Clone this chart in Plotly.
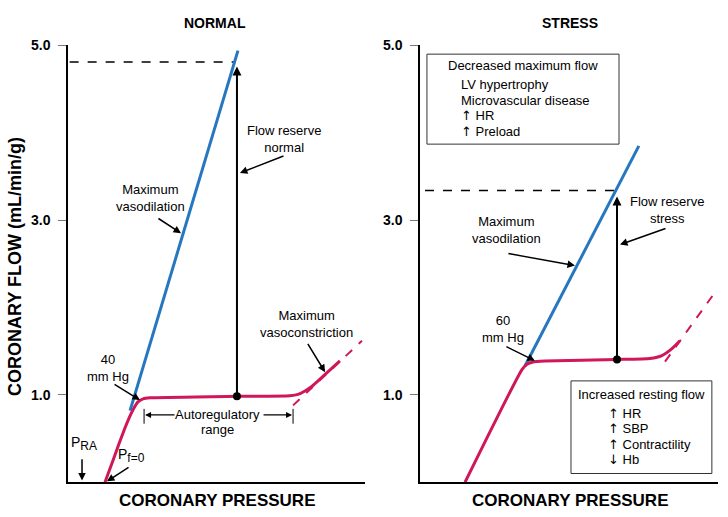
import plotly.graph_objects as go

# ---------------- DATA ----------------
# NORMAL panel (x: coronary pressure, arbitrary mm Hg scale; y: flow mL/min/g)
normal_auto_x = [22.4, 26.7, 30.9, 34.5, 37.6, 40.0, 42.4, 45.5, 49.7, 102.4, 134.5, 139.4, 143.6, 147.9, 152.7, 164.8]
normal_auto_y = [0.00, 0.22, 0.44, 0.62, 0.76, 0.85, 0.92, 0.955, 0.966, 0.983, 0.99, 1.005, 1.045, 1.10, 1.18, 1.39]
normal_vasodil_x = [37.6, 103.0]
normal_vasodil_y = [0.82, 4.94]
normal_constrict_x = [136.4, 178.2]
normal_constrict_y = [0.88, 1.62]
normal_maxflow_x = [1.0, 101.2]
normal_maxflow_y = [4.81, 4.81]
normal_rest_x = [102.4]
normal_rest_y = [0.983]
normal_reserve_top = 4.76

# STRESS panel
stress_auto_x = [27.2, 61.6, 64.6, 68.2, 75.5, 119.0, 138.9, 146.1, 152.2, 157.0]
stress_auto_y = [0.00, 1.29, 1.35, 1.377, 1.388, 1.405, 1.417, 1.45, 1.53, 1.62]
stress_vasodil_x = [63.4, 132.2]
stress_vasodil_y = [1.33, 3.85]
stress_constrict_x = [148.0, 176.9]
stress_constrict_y = [1.38, 2.14]
stress_maxflow_x = [3.0, 118.4]
stress_maxflow_y = [3.34, 3.34]
stress_rest_x = [119.0]
stress_rest_y = [1.405]
stress_reserve_top = 3.27

y_tickvals = [1, 3, 5]
y_ticktext = ["1.0", "3.0", "5.0"]

UP = "<span style='font-family:DejaVu Sans'>↑</span>"
DOWN = "<span style='font-family:DejaVu Sans'>↓</span>"
decreased_items = ["LV hypertrophy", "Microvascular disease", UP + " HR", UP + " Preload"]
increased_items = [UP + " HR", UP + " SBP", UP + " Contractility", DOWN + " Hb"]

BLUE = "#2677c0"
RED = "#cf1759"
FONT = "Liberation Sans, Arial, Helvetica, sans-serif"

fig = go.Figure()

def add_panel(xa, ya, auto_x, auto_y, vx, vy, cx, cy, mx, my, rx, ry):
    fig.add_trace(go.Scatter(x=cx, y=cy, mode="lines", xaxis=xa, yaxis=ya,
                             line=dict(color=RED, width=2, dash="dash"), hoverinfo="skip"))
    fig.add_trace(go.Scatter(x=mx, y=my, mode="lines", xaxis=xa, yaxis=ya,
                             line=dict(color="black", width=1.5, dash="dash"), hoverinfo="skip"))
    fig.add_trace(go.Scatter(x=vx, y=vy, mode="lines", xaxis=xa, yaxis=ya,
                             line=dict(color=BLUE, width=3), hoverinfo="skip"))
    fig.add_trace(go.Scatter(x=auto_x, y=auto_y, mode="lines", xaxis=xa, yaxis=ya,
                             line=dict(color=RED, width=3, shape="spline", smoothing=0.5), hoverinfo="skip"))
    fig.add_trace(go.Scatter(x=rx, y=ry, mode="markers", xaxis=xa, yaxis=ya,
                             marker=dict(color="black", size=8), hoverinfo="skip"))

add_panel("x", "y", normal_auto_x, normal_auto_y, normal_vasodil_x, normal_vasodil_y,
          normal_constrict_x, normal_constrict_y, normal_maxflow_x, normal_maxflow_y,
          normal_rest_x, normal_rest_y)
add_panel("x2", "y2", stress_auto_x, stress_auto_y, stress_vasodil_x, stress_vasodil_y,
          stress_constrict_x, stress_constrict_y, stress_maxflow_x, stress_maxflow_y,
          stress_rest_x, stress_rest_y)

ann = []

def arrow(xref, yref, x, y, ax, ay, width=1.5, size=1.0):
    ann.append(dict(x=x, y=y, ax=ax, ay=ay, xref=xref, yref=yref, axref=xref, ayref=yref,
                    text="", showarrow=True, arrowhead=2, arrowsize=size, arrowwidth=width,
                    arrowcolor="black", standoff=0, startstandoff=0))

def text(xref, yref, x, y, s, size=13, xanchor="center", align="center"):
    ann.append(dict(x=x, y=y, xref=xref, yref=yref, text=s, showarrow=False,
                    xanchor=xanchor, yanchor="middle", align=align,
                    font=dict(family=FONT, size=size, color="black")))

# flow reserve arrows
arrow("x", "y", normal_rest_x[0], normal_reserve_top, normal_rest_x[0], normal_rest_y[0], width=2, size=0.9)
arrow("x2", "y2", stress_rest_x[0], stress_reserve_top, stress_rest_x[0], stress_rest_y[0], width=2, size=0.9)

# NORMAL labels
text("x", "y", 49.7, 3.25, "Maximum<br>vasodilation")
arrow("x", "y", 68.5, 2.85, 53.9, 3.03)
text("x", "y", 130.9, 3.93, "Flow reserve<br>normal")
arrow("x", "y", 104.2, 3.54, 131.5, 3.74)
text("x", "y", 24.2, 1.31, "40<br>mm Hg")
arrow("x", "y", 43.6, 0.94, 27.3, 1.13)
text("x", "y", 90.9, 0.77, "Autoregulatory")
text("x", "y", 90.9, 0.60, "range")
arrow("x", "y", 46.7, 0.77, 65.5, 0.77, width=1.2)
arrow("x", "y", 135.8, 0.77, 117.6, 0.77, width=1.2)
text("x", "y", 144.8, 1.81, "Maximum<br>vasoconstriction")
arrow("x", "y", 155.8, 1.26, 144.8, 1.60)
text("x", "y", 9.8, 0.44, "P<sub><span style='font-size:12px'>RA</span></sub>", size=14)
arrow("x", "y", 8.5, 0.02, 8.5, 0.28)
text("x", "y", 38.5, 0.31, "P<sub><span style='font-size:12px'>f=0</span></sub>", size=14)
arrow("x", "y", 23.6, 0.01, 37.6, 0.18)

# STRESS labels
text("x2", "y2", 52.5, 2.89, "Maximum<br>vasodilation")
arrow("x2", "y2", 93.6, 2.48, 52.5, 2.62)
text("x2", "y2", 149.2, 3.12, "Flow reserve<br>stress")
arrow("x2", "y2", 120.8, 2.72, 149.2, 2.91)
text("x2", "y2", 50.1, 1.75, "60<br>mm Hg")
arrow("x2", "y2", 69.4, 1.39, 51.3, 1.56)

text("x2", "y2", 62.2, 4.77, "Decreased maximum flow")
for i, s in enumerate(decreased_items):
    text("x2", "y2", 23.6, 4.55 - i * 0.177, s, xanchor="left", align="left")
text("x2", "y2", 133.5, 1.01, "Increased resting flow")
for i, s in enumerate(increased_items):
    text("x2", "y2", 112.3, 0.79 - i * 0.177, s, xanchor="left", align="left")

# titles (paper)
def ptext(x, y, s, size, angle=0):
    ann.append(dict(x=x, y=y, xref="paper", yref="paper", text="<b>" + s + "</b>", showarrow=False,
                    xanchor="center", yanchor="middle", textangle=angle,
                    font=dict(family=FONT, size=size, color="black")))

ptext(215 / 728, 1 - 15 / 517, "NORMAL", 14)
ptext(570 / 728, 1 - 15 / 517, "STRESS", 14)
ptext(217 / 728, 1 - 500 / 517, "CORONARY PRESSURE", 17)
ptext(570 / 728, 1 - 500 / 517, "CORONARY PRESSURE", 17)
ptext(15 / 728, 1 - 263 / 517, "CORONARY FLOW (mL/min/g)", 18, angle=-90)

shapes = [
    dict(type="rect", xref="x2", yref="y2", x0=4.2, x1=120.2, y0=3.87, y1=4.90,
         line=dict(color="#333", width=1), fillcolor="rgba(0,0,0,0)"),
    dict(type="rect", xref="x2", yref="y2", x0=91.2, x1=176.3, y0=0.10, y1=1.16,
         line=dict(color="#333", width=1), fillcolor="rgba(0,0,0,0)"),
    dict(type="line", xref="x", yref="y", x0=46.1, x1=46.1, y0=0.67, y1=0.84,
         line=dict(color="black", width=1)),
    dict(type="line", xref="x", yref="y", x0=136.4, x1=136.4, y0=0.67, y1=0.84,
         line=dict(color="black", width=1)),
]

xcommon = dict(range=[0, 180], showline=True, linecolor="black", linewidth=1.5,
               showticklabels=False, ticks="", showgrid=False, zeroline=False, fixedrange=True)
ycommon = dict(range=[0, 5], domain=[1 - 481.7 / 517, 1 - 38 / 517], showline=True,
               linecolor="black", linewidth=1.5, tickvals=y_tickvals, ticktext=y_ticktext,
               ticks="outside", ticklen=8, tickwidth=1, tickcolor="#777",
               tickfont=dict(family=FONT, size=14, color="black", weight="bold"),
               ticklabelstandoff=5, showgrid=False, zeroline=False, fixedrange=True)

fig.update_layout(
    width=728, height=517, margin=dict(l=0, r=0, t=0, b=0),
    paper_bgcolor="white", plot_bgcolor="white", showlegend=False,
    xaxis=dict(domain=[68 / 728, 365 / 728], anchor="y", **xcommon),
    xaxis2=dict(domain=[420 / 728, 718 / 728], anchor="y2", **xcommon),
    yaxis=dict(anchor="x", **ycommon),
    yaxis2=dict(anchor="x2", **ycommon),
    annotations=ann, shapes=shapes,
)

fig.write_html("out.html", config={"displayModeBar": False},
               post_script="document.body.style.margin='0';document.body.style.overflow='hidden';")
